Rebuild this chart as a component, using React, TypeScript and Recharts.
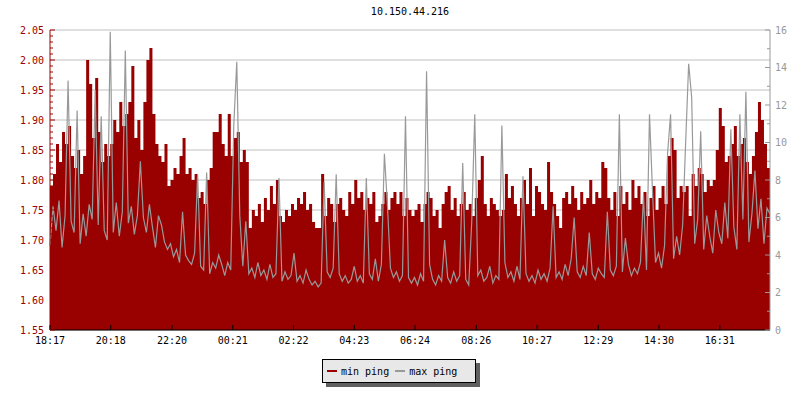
import React from 'react';
import { ComposedChart, Area, Line, XAxis, YAxis, CartesianGrid } from 'recharts';

const RED = '#990000';
const GREY = '#999999';
const MONO = '"DejaVu Sans Mono", "Liberation Mono", monospace';

const title = '10.150.44.216';
const sampleMinutes = 6;

const xTickMinutes = [0, 121, 243, 364, 485, 606, 727, 849, 970, 1092, 1213, 1334];
const xTickLabels = ['18:17', '20:18', '22:20', '00:21', '02:22', '04:23', '06:24', '08:26', '10:27', '12:29', '14:30', '16:31'];
const leftTicks = [1.55, 1.6, 1.65, 1.7, 1.75, 1.8, 1.85, 1.9, 1.95, 2.0, 2.05];
const rightTicks = [0, 2, 4, 6, 8, 10, 12, 14, 16];

// min ping (left axis, ms)
const minPing = [
  1.79, 1.81, 1.86, 1.83, 1.88, 1.86, 1.89, 1.84, 1.82, 1.85,
  1.81, 1.84, 2.00, 1.96, 1.87, 1.97, 1.88, 1.83, 1.86, 1.84,
  1.86, 1.90, 1.88, 1.93, 1.89, 1.91, 1.93, 1.99, 1.87, 1.90,
  1.85, 1.93, 2.00, 2.02, 1.91, 1.86, 1.84, 1.83, 1.86, 1.79,
  1.80, 1.82, 1.81, 1.84, 1.87, 1.81, 1.82, 1.80, 1.81, 1.77,
  1.78, 1.76, 1.80, 1.82, 1.88, 1.88, 1.91, 1.86, 1.84, 1.91,
  1.84, 1.87, 1.88, 1.83, 1.85, 1.83, 1.72, 1.75, 1.74, 1.76,
  1.73, 1.77, 1.75, 1.79, 1.76, 1.80, 1.74, 1.73, 1.75, 1.74,
  1.76, 1.75, 1.77, 1.76, 1.78, 1.75, 1.76, 1.73, 1.72, 1.72,
  1.81, 1.74, 1.77, 1.76, 1.73, 1.76, 1.77, 1.75, 1.74, 1.78,
  1.76, 1.80, 1.77, 1.78, 1.75, 1.77, 1.76, 1.78, 1.73, 1.74,
  1.76, 1.78, 1.75, 1.77, 1.78, 1.76, 1.78, 1.74, 1.77, 1.75,
  1.74, 1.75, 1.76, 1.73, 1.76, 1.78, 1.77, 1.74, 1.75, 1.72,
  1.76, 1.78, 1.79, 1.75, 1.77, 1.74, 1.76, 1.78, 1.75, 1.76,
  1.74, 1.77, 1.80, 1.84, 1.76, 1.74, 1.77, 1.76, 1.75, 1.74,
  1.75, 1.81, 1.77, 1.79, 1.76, 1.74, 1.77, 1.80, 1.76, 1.82,
  1.74, 1.79, 1.78, 1.76, 1.75, 1.83, 1.78, 1.76, 1.74, 1.72,
  1.77, 1.78, 1.76, 1.79, 1.77, 1.75, 1.78, 1.76, 1.77, 1.80,
  1.76, 1.78, 1.77, 1.83, 1.82, 1.77, 1.75, 1.78, 1.74, 1.79,
  1.76, 1.78, 1.75, 1.80, 1.77, 1.79, 1.76, 1.78, 1.74, 1.77,
  1.79, 1.75, 1.77, 1.79, 1.76, 1.84, 1.87, 1.85, 1.77, 1.79,
  1.78, 1.79, 1.74, 1.81, 1.79, 1.82, 1.81, 1.78, 1.80, 1.79,
  1.80, 1.85, 1.92, 1.89, 1.83, 1.84, 1.86, 1.89, 1.84, 1.86,
  1.87, 1.83, 1.81, 1.84, 1.88, 1.93, 1.90, 1.86, 1.82, 1.79,
];

// max ping (right axis, ms)
const maxPing = [
  4.5, 6.6, 5.3, 6.9, 4.4, 6.1, 13.3, 5.8, 5.2, 11.7,
  4.6, 6.2, 5.0, 6.7, 5.9, 12.8, 5.6, 11.4, 5.3, 4.8,
  15.9, 5.2, 6.8, 5.0, 6.3, 14.9, 5.7, 6.6, 5.1, 6.1,
  9.0, 6.0, 5.2, 6.7, 5.5, 4.4, 6.1, 5.6, 4.7, 4.3,
  4.6, 3.9, 4.3, 3.6, 6.3, 4.0, 3.7, 3.5, 4.1, 8.3,
  3.4, 3.2, 8.4, 3.0, 3.6, 3.3, 4.0, 3.5, 2.9, 3.6,
  3.2, 10.9, 14.3, 6.1, 3.4, 5.8, 3.0, 3.3, 2.8, 3.6,
  2.9, 3.2, 2.7, 3.5, 2.8, 3.0, 8.1, 2.6, 3.1, 2.7,
  2.9, 4.1, 2.6, 2.9, 2.5, 3.2, 2.7, 2.4, 2.6, 2.3,
  2.5, 7.9, 3.1, 2.8, 3.3, 8.3, 3.0, 2.6, 2.9, 2.5,
  2.7, 3.4, 2.6, 2.9, 2.5, 8.1, 3.0, 2.7, 3.8, 2.6,
  3.5, 9.4, 6.7, 3.3, 2.8, 3.1, 2.6, 2.9, 11.4, 2.8,
  2.5, 2.8, 2.4, 3.0, 2.6, 13.8, 3.5, 2.7, 2.4, 2.9,
  2.6, 4.8, 2.8, 2.5, 3.1, 2.6, 2.9, 8.9, 2.7, 2.4,
  5.8, 11.5, 2.9, 3.2, 2.6, 2.8, 3.4, 2.5, 2.9, 2.7,
  10.9, 3.6, 2.8, 3.1, 2.6, 3.4, 2.7, 8.2, 3.0, 2.6,
  2.9, 2.5, 3.2, 2.7, 3.0, 2.6, 3.3, 6.6, 2.8, 3.1,
  2.7, 3.5, 2.9, 3.8, 6.0, 3.1, 2.8, 3.4, 2.9, 5.2,
  3.0, 2.7, 3.3, 3.0, 2.8, 6.3, 3.2, 2.9, 3.4, 11.5,
  3.1, 4.9, 3.5, 2.9, 3.3, 3.0, 3.6, 7.2, 3.2, 11.5,
  7.4, 3.6, 4.1, 3.3, 4.5, 9.4, 11.5, 3.8, 5.0, 4.0,
  5.6, 10.0, 14.2, 12.4, 4.6, 5.9, 10.6, 4.3, 6.1, 5.0,
  4.1, 6.4, 5.2, 4.6, 6.8, 4.9, 10.7, 5.5, 4.3, 11.5,
  5.9, 12.7, 4.7, 6.2, 8.5, 5.4, 7.0, 4.6, 6.5, 6.2,
];

const data = minPing.map((v, i) => ({ t: i * sampleMinutes, min: v, max: maxPing[i] }));

const PLOT_TOP = 30;
const PLOT_H = 300;
const lastMinute = (minPing.length - 1) * sampleMinutes;

const LeftTick = (props: any) => {
  const { x, y, payload, index } = props;
  const axisX = x + 6;
  const step = PLOT_H / (leftTicks.length - 1) / 5;
  const minors = index < leftTicks.length - 1 ? [1, 2, 3, 4] : [];
  return (
    <g>
      <line x1={axisX} x2={axisX + 5} y1={y} y2={y} stroke={RED} />
      {minors.map((k) => (
        <line key={k} x1={axisX} x2={axisX + 3} y1={y - k * step} y2={y - k * step} stroke={RED} />
      ))}
      <text x={x} y={y} dy={3.5} textAnchor="end" fill={RED} fontSize={10} fontFamily={MONO}>
        {Number(payload.value).toFixed(2)}
      </text>
    </g>
  );
};

const RightTick = (props: any) => {
  const { x, y, payload, index } = props;
  const axisX = x - 5;
  const step = PLOT_H / (rightTicks.length - 1) / 2;
  return (
    <g>
      <line x1={axisX - 5} x2={axisX} y1={y} y2={y} stroke={GREY} />
      {index < rightTicks.length - 1 && (
        <line x1={axisX - 3} x2={axisX} y1={y - step} y2={y - step} stroke={GREY} />
      )}
      <text x={x} y={y} dy={3.5} textAnchor="start" fill={GREY} fontSize={10} fontFamily={MONO}>
        {payload.value}
      </text>
    </g>
  );
};

const BottomTick = (props: any) => {
  const { x, y, payload, index } = props;
  return (
    <g>
      <line x1={x} x2={x} y1={y - 5} y2={y} stroke="#000" />
      <text x={x} y={y} dy={14} textAnchor="middle" fill="#000" fontSize={10} fontFamily={MONO}>
        {xTickLabels[index] ?? payload.value}
      </text>
    </g>
  );
};

const legendItems = [
  { name: 'min ping', color: RED },
  { name: 'max ping', color: GREY },
];

export default function App() {
  return (
    <div style={{ position: 'absolute', left: 0, top: 0, width: 800, height: 400, background: '#fff' }}>
      <div
        style={{
          position: 'absolute', left: 0, top: 6, width: 820, textAlign: 'center',
          fontFamily: MONO, fontSize: 10, lineHeight: '12px', color: '#000',
        }}
      >
        {title}
      </div>
      <ComposedChart width={800} height={400} data={data} margin={{ top: PLOT_TOP, right: 0, bottom: 0, left: 0 }}>
        <CartesianGrid vertical={false} yAxisId="left" stroke="#c0c0c0" />
        <XAxis
          dataKey="t"
          type="number"
          domain={[0, lastMinute]}
          ticks={xTickMinutes}
          interval={0}
          height={70}
          tickSize={0}
          tickMargin={0}
          tickLine={false}
          axisLine={{ stroke: '#000' }}
          tick={<BottomTick />}
        />
        <YAxis
          yAxisId="left"
          orientation="left"
          domain={[1.55, 2.05]}
          ticks={leftTicks}
          interval={0}
          width={50}
          tickSize={0}
          tickMargin={6}
          tickLine={false}
          axisLine={{ stroke: RED }}
          tick={<LeftTick />}
        />
        <YAxis
          yAxisId="right"
          orientation="right"
          domain={[0, 16]}
          ticks={rightTicks}
          interval={0}
          width={30}
          tickSize={0}
          tickMargin={5}
          tickLine={false}
          axisLine={{ stroke: GREY }}
          tick={<RightTick />}
        />
        <Area
          yAxisId="left"
          dataKey="min"
          type="stepAfter"
          fill={RED}
          fillOpacity={1}
          stroke="none"
          isAnimationActive={false}
        />
        <Line
          yAxisId="right"
          dataKey="max"
          type="linear"
          stroke={GREY}
          strokeWidth={1.2}
          dot={false}
          activeDot={false}
          isAnimationActive={false}
        />
      </ComposedChart>
      <div
        style={{
          position: 'absolute', left: 322, top: 359, width: 152, height: 22,
          background: '#e8e8e8', border: '1px solid #000', boxShadow: '4px 4px 0 #606060',
          display: 'flex', alignItems: 'center', fontFamily: MONO, fontSize: 10, color: '#000',
        }}
      >
        {legendItems.map((it, i) => (
          <div key={it.name} style={{ display: 'flex', alignItems: 'center', marginLeft: i === 0 ? 4 : 6 }}>
            <span style={{ display: 'inline-block', width: 10, height: 2, background: it.color, marginRight: 4 }} />
            <span>{it.name}</span>
          </div>
        ))}
      </div>
    </div>
  );
}
